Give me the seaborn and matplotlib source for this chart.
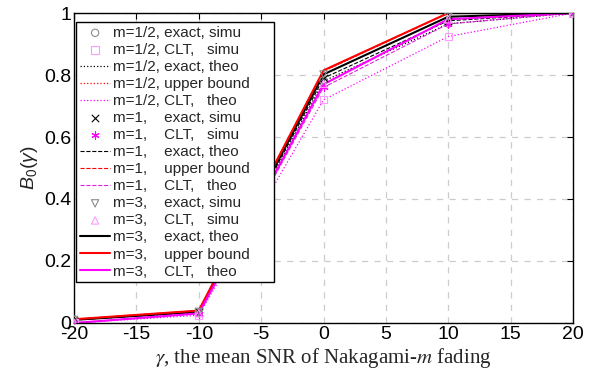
import numpy as np
import pandas as pd
import matplotlib
matplotlib.use("Agg")
import matplotlib.pyplot as plt
import seaborn as sns

# mean SNR (dB)
snr = [-20, -10, 0, 10, 20]

# m = 1/2
half_exact_simu = [0.010, 0.034, 0.782, 0.966, 1.0]
half_clt_simu = [0.001, 0.024, 0.722, 0.925, 1.0]
half_exact_theo = [0.010, 0.035, 0.780, 0.965, 1.0]
half_upper = [0.012, 0.040, 0.812, 1.0, 1.0]
half_clt_theo = [0.0, 0.025, 0.720, 0.924, 1.0]

# m = 1
one_exact_simu = [0.010, 0.035, 0.790, 0.975, 1.0]
one_clt_simu = [0.001, 0.030, 0.760, 0.966, 1.0]
one_exact_theo = [0.010, 0.035, 0.790, 0.975, 1.0]
one_upper = [0.012, 0.040, 0.813, 1.0, 1.0]
one_clt_theo = [0.0, 0.030, 0.760, 0.965, 1.0]

# m = 3
three_exact_simu = [0.010, 0.036, 0.802, 0.988, 1.0]
three_clt_simu = [0.001, 0.031, 0.772, 0.980, 1.0]
three_exact_theo = [0.010, 0.036, 0.802, 0.988, 1.0]
three_upper = [0.012, 0.040, 0.815, 1.0, 1.0]
three_clt_theo = [0.0, 0.031, 0.770, 0.980, 1.0]

xticks = [-20, -15, -10, -5, 0, 5, 10, 15, 20]
yticks = [0, 0.2, 0.4, 0.6, 0.8, 1]
ytick_labels = ["0", "0.2", "0.4", "0.6", "0.8", "1"]

sns.set_style("white")
plt.rcParams["font.family"] = ["Liberation Sans", "DejaVu Sans"]
plt.rcParams["axes.unicode_minus"] = False
plt.rcParams["mathtext.fontset"] = "custom"
plt.rcParams["mathtext.rm"] = "Liberation Sans"
plt.rcParams["mathtext.it"] = "Liberation Sans:italic"

fig = plt.figure(figsize=(5.93, 3.74), dpi=100)
ax = fig.add_axes([0.1248, 0.1364, 0.8415, 0.8288])

# (values, label, kind, color, marker/linestyle, linewidth)
series = [
    (half_exact_simu, "m=1/2, exact, simu", "simu", "#8c8c8c", "o", None),
    (half_clt_simu, "m=1/2, CLT,   simu", "simu", "#ff9cff", "s", None),
    (half_exact_theo, "m=1/2, exact, theo", "theo", "black", ":", 0.9),
    (half_upper, "m=1/2, upper bound", "theo", "red", ":", 0.9),
    (half_clt_theo, "m=1/2, CLT,   theo", "theo", "magenta", ":", 0.9),
    (one_exact_simu, "m=1,    exact, simu", "simu", "black", "x", None),
    (one_clt_simu, "m=1,    CLT,   simu", "simu", "magenta", (6, 2, 0), None),
    (one_exact_theo, "m=1,    exact, theo", "theo", "black", "--", 0.8),
    (one_upper, "m=1,    upper bound", "theo", "red", "--", 0.8),
    (one_clt_theo, "m=1,    CLT,   theo", "theo", "#e020e0", "--", 0.8),
    (three_exact_simu, "m=3,    exact, simu", "simu", "#8c8c8c", "v", None),
    (three_clt_simu, "m=3,    CLT,   simu", "simu", "#ff9cff", "^", None),
    (three_exact_theo, "m=3,    exact, theo", "theo", "black", "-", 1.5),
    (three_upper, "m=3,    upper bound", "theo", "red", "-", 1.5),
    (three_clt_theo, "m=3,    CLT,   theo", "theo", "magenta", "-", 1.5),
]

for vals, label, kind, color, style, lw in series:
    df = pd.DataFrame({"snr": snr, "B0": vals})
    if kind == "simu":
        filled = style in ("x", (6, 2, 0))
        sns.scatterplot(data=df, x="snr", y="B0", ax=ax, marker=style, s=28,
                        color=color if filled else "none",
                        edgecolor=color, linewidth=0.8, label=label, zorder=3)
    else:
        sns.lineplot(data=df, x="snr", y="B0", ax=ax, color=color,
                     linestyle=style, linewidth=lw, label=label)

ax.set_xlim(-20, 20)
ax.set_ylim(0, 1)
ax.set_xticks(xticks)
ax.set_yticks(yticks)
ax.set_yticklabels(ytick_labels)
ax.tick_params(direction="in", labelsize=14, length=4, width=0.8,
               top=True, right=True, pad=2, colors="black")
ax.grid(True, color="#cccccc", linestyle=(0, (5, 5)), linewidth=0.9)
for sp in ax.spines.values():
    sp.set_color("black")
    sp.set_linewidth(1.0)

ax.set_xlabel(r"$\gamma$, the mean SNR of Nakagami-$m$ fading",
              fontsize=15, family="Liberation Serif", math_fontfamily="stix",
              labelpad=2)
ax.set_ylabel(r"$B_0(\gamma)$", fontsize=14, labelpad=3)

leg = ax.legend(loc="upper left", bbox_to_anchor=(0.004, 0.971, 0.397, 0.0),
                mode="expand", fontsize=11, frameon=True, fancybox=False,
                framealpha=1, edgecolor="black", borderpad=0.25,
                labelspacing=0.2, handlelength=2.0, handletextpad=0.15,
                borderaxespad=0)
leg.get_frame().set_linewidth(1.0)

fig.savefig("out.png", dpi=100)
